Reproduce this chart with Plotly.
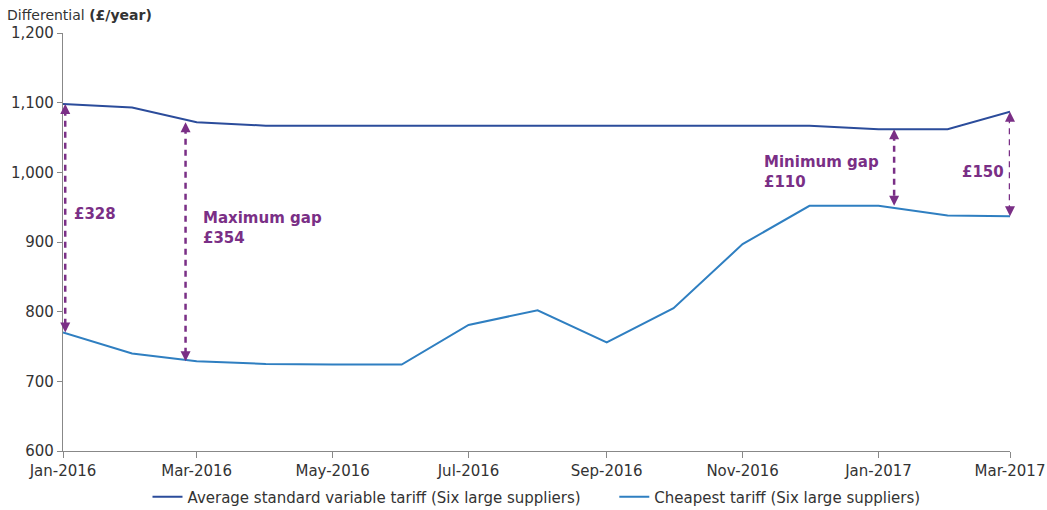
import plotly.graph_objects as go

months = ["2016-01-01", "2016-02-01", "2016-03-01", "2016-04-01", "2016-05-01",
          "2016-06-01", "2016-07-01", "2016-08-01", "2016-09-01", "2016-10-01",
          "2016-11-01", "2016-12-01", "2017-01-01", "2017-02-01", "2017-03-01"]
svt = [1098, 1093, 1072, 1067, 1067, 1067, 1067, 1067, 1067, 1067, 1067, 1067, 1062, 1062, 1087]
cheapest = [770, 740, 729, 725, 724, 724, 781, 802, 756, 805, 897, 952, 952, 938, 937]

# gap arrows: x position, top, bottom, label
gap_x = ["2016-01-02", "2016-02-25", "2017-01-08", "2017-03-01"]
gap_top = [1098, 1072, 1062, 1087]
gap_bot = [770, 729, 952, 937]
gap_labels = ["£328", "Maximum gap<br>£354", "Minimum gap<br>£110", "£150"]
label_x = ["2016-01-05", "2016-03-03", "2017-01-02", "2017-02-27"]
label_y = [940, 920, 1000, 1000]
label_anchor = ["left", "left", "right", "right"]

purple = "#7a2f86"
dark_blue = "#2b4c9b"
light_blue = "#2f7fc1"
font = "DejaVu Sans, sans-serif"

fig = go.Figure()
fig.add_trace(go.Scatter(x=months, y=svt, mode="lines",
                         name="Average standard variable tariff (Six large suppliers)" + "\u00a0" * 6,
                         line=dict(color=dark_blue, width=2)))
fig.add_trace(go.Scatter(x=months, y=cheapest, mode="lines", name="Cheapest tariff (Six large suppliers)",
                         line=dict(color=light_blue, width=2)))

for gx, gt, gb in zip(gap_x, gap_top, gap_bot):
    fig.add_trace(go.Scatter(x=[gx, gx], y=[gt - 8, gb + 8], mode="lines", showlegend=False,
                             hoverinfo="skip", line=dict(color=purple, width=2.5, dash="6px,5px")))
    fig.add_annotation(x=gx, y=gt, ax=0, ay=11, showarrow=True, arrowhead=2, arrowsize=1.0,
                       arrowwidth=2, arrowcolor=purple, text="")
    fig.add_annotation(x=gx, y=gb, ax=0, ay=-11, showarrow=True, arrowhead=2, arrowsize=1.0,
                       arrowwidth=2, arrowcolor=purple, text="")

for lx, ly, lt, la in zip(label_x, label_y, gap_labels, label_anchor):
    fig.add_annotation(x=lx, y=ly, text="<b>" + lt + "</b>", showarrow=False, xanchor=la,
                       align="left", font=dict(color=purple, size=15, family=font))

fig.add_annotation(xref="paper", yref="paper", x=-0.061, y=1.043, xanchor="left", yanchor="middle",
                   text="Differential <b>(£/year)</b>", showarrow=False,
                   font=dict(size=14, color="#333333", family=font))

fig.update_layout(
    width=1047, height=510,
    margin=dict(l=63, r=37, t=33, b=59, autoexpand=False),
    plot_bgcolor="white", paper_bgcolor="white",
    font=dict(family=font, size=15, color="#333333"),
    showlegend=True,
    legend=dict(orientation="h", x=0.5, xanchor="center", y=-0.11, yanchor="middle",
                font=dict(size=15, color="#333333"), itemwidth=30, tracegroupgap=0),
)
fig.update_xaxes(type="date", range=["2016-01-01", "2017-03-01"], dtick="M2", tick0="2016-01-01",
                 tickformat="%b-%Y", showgrid=False, zeroline=False, showline=True,
                 linecolor="#888888", linewidth=1.2, ticks="outside", ticklen=6, tickcolor="#888888")
fig.update_yaxes(range=[600, 1200], dtick=100, tickformat=",", showgrid=False, zeroline=False,
                 showline=True, linecolor="#888888", linewidth=1.2, ticks="outside", ticklen=5,
                 tickcolor="#888888")

fig.write_html("out.html", config={"displayModeBar": False},
               post_script="document.body.style.margin='0';document.body.style.overflow='hidden';")
